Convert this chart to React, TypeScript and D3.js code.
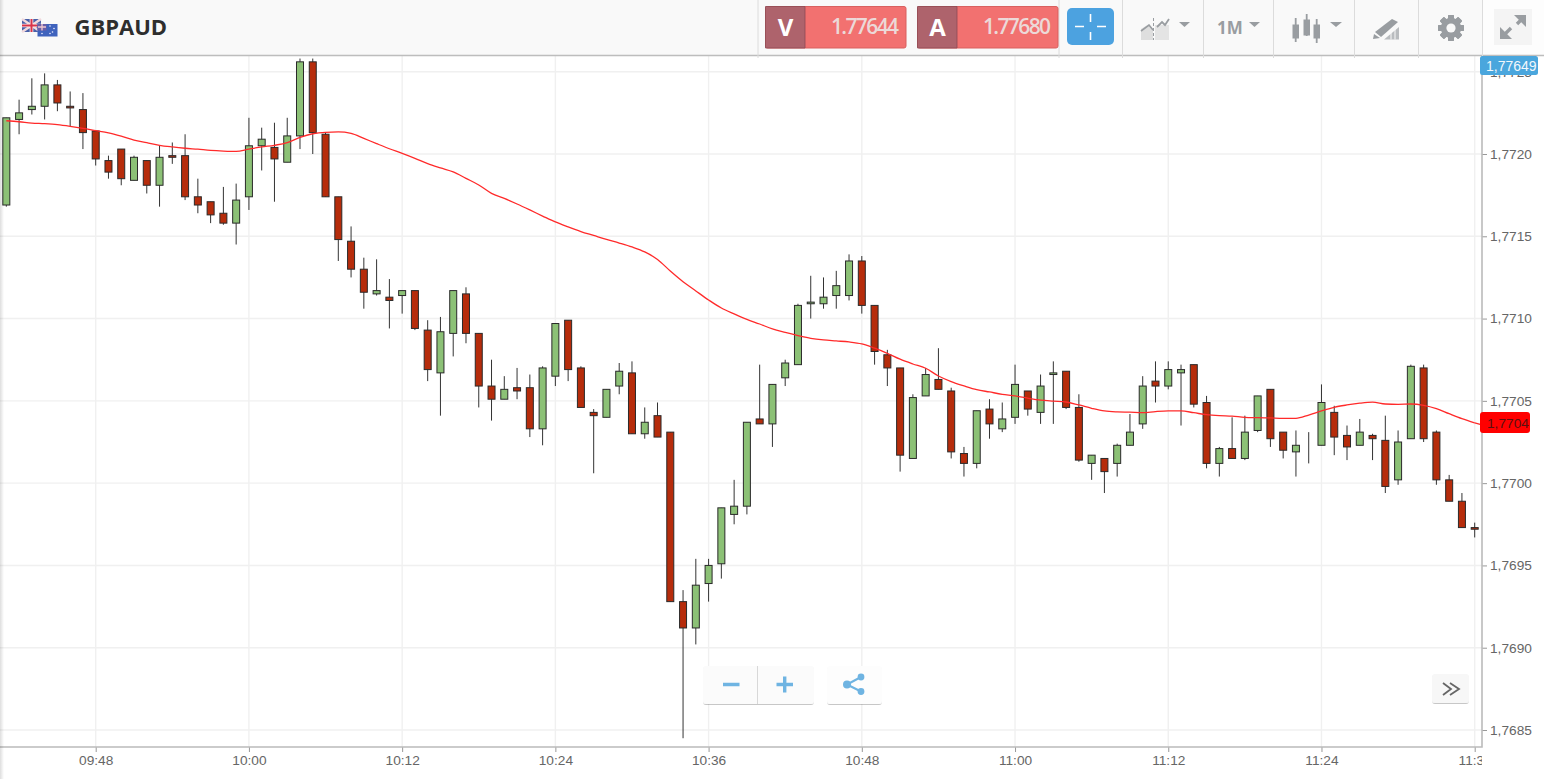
import { useEffect, useRef } from "react";
import * as d3 from "d3";

// one candle per minute, first one is 09:41
const firstMinute = 9 * 60 + 41;

const opens = [
  1.77169, 1.77221, 1.77227, 1.77229, 1.77242, 1.77229, 1.77227, 1.77214, 1.77196, 1.77203,
  1.77184, 1.77196, 1.77181, 1.77199, 1.77199, 1.77174, 1.77171, 1.77164, 1.77158, 1.77174,
  1.77205, 1.77204, 1.77195, 1.77211, 1.77256, 1.77212, 1.77174, 1.77147, 1.7713, 1.77115,
  1.77113, 1.77114, 1.77117, 1.77093, 1.77067, 1.77091, 1.77115, 1.77091, 1.77059, 1.77051,
  1.77058, 1.77058, 1.77033, 1.77065, 1.77099, 1.7707, 1.77043, 1.7704, 1.77059, 1.77067,
  1.7703, 1.77041, 1.77031, 1.76928, 1.76912, 1.76939, 1.76951, 1.76981, 1.76986, 1.77039,
  1.77036, 1.77064, 1.77072, 1.77109, 1.77109, 1.77114, 1.77114, 1.77135, 1.77108, 1.77078,
  1.7707, 1.77015, 1.77053, 1.77063, 1.77056, 1.77018, 1.77012, 1.77045, 1.77033, 1.7704,
  1.77056, 1.77043, 1.77066, 1.77068, 1.77046, 1.77012, 1.77015, 1.77012, 1.77023, 1.77036,
  1.77062, 1.77059, 1.77067, 1.77072, 1.77049, 1.77012, 1.77021, 1.77015, 1.77032, 1.77057,
  1.77031, 1.77019, 1.77023, 1.77023, 1.77043, 1.77029, 1.77023, 1.77029, 1.77026, 1.77002,
  1.77027, 1.7707, 1.77031, 1.77002, 1.76989, 1.76973,
];

const highs = [
  1.77222, 1.77233, 1.77246, 1.77249, 1.77245, 1.77238, 1.77237, 1.77214, 1.77199, 1.77203,
  1.77199, 1.77196, 1.77205, 1.77207, 1.77212, 1.77185, 1.77171, 1.7718, 1.77182, 1.77222,
  1.77216, 1.77219, 1.77222, 1.77258, 1.77258, 1.77213, 1.77174, 1.77156, 1.77137, 1.77136,
  1.77124, 1.77117, 1.77117, 1.77099, 1.77101, 1.77117, 1.77119, 1.77091, 1.77075, 1.77065,
  1.7707, 1.77066, 1.77071, 1.77097, 1.77099, 1.77071, 1.77045, 1.77057, 1.77073, 1.77074,
  1.77046, 1.77049, 1.77031, 1.76935, 1.76954, 1.76954, 1.76985, 1.77002, 1.77037, 1.77072,
  1.7706, 1.77075, 1.77109, 1.77126, 1.77125, 1.77129, 1.77139, 1.77138, 1.77108, 1.77081,
  1.7707, 1.77054, 1.7707, 1.77082, 1.77058, 1.77022, 1.77044, 1.77051, 1.77049, 1.77072,
  1.77056, 1.77066, 1.77074, 1.77068, 1.77054, 1.77017, 1.77015, 1.77024, 1.77042, 1.77065,
  1.77074, 1.77074, 1.77072, 1.77072, 1.77053, 1.77022, 1.7704, 1.77041, 1.77053, 1.77057,
  1.77031, 1.77032, 1.77031, 1.7706, 1.77047, 1.77035, 1.77039, 1.7703, 1.77041, 1.77032,
  1.77072, 1.77072, 1.77032, 1.77005, 1.76994, 1.76976,
];

const lows = [
  1.77168, 1.77212, 1.77224, 1.77221, 1.77226, 1.77217, 1.77203, 1.77193, 1.77185, 1.77181,
  1.77184, 1.77176, 1.77168, 1.77194, 1.77172, 1.77164, 1.77158, 1.77157, 1.77145, 1.77166,
  1.7719, 1.77171, 1.77195, 1.77203, 1.772, 1.77174, 1.77135, 1.77125, 1.77106, 1.77114,
  1.77094, 1.77103, 1.77093, 1.77062, 1.77041, 1.77077, 1.77085, 1.77046, 1.77038, 1.77051,
  1.77051, 1.77028, 1.77023, 1.77059, 1.77062, 1.77046, 1.77006, 1.7704, 1.77054, 1.7703,
  1.77027, 1.77028, 1.76928, 1.76845, 1.76902, 1.76928, 1.76942, 1.76975, 1.76981, 1.77036,
  1.77022, 1.77059, 1.77072, 1.771, 1.77106, 1.77106, 1.77111, 1.77103, 1.77072, 1.77059,
  1.77007, 1.77015, 1.77053, 1.77057, 1.77015, 1.77004, 1.77009, 1.77027, 1.77031, 1.77036,
  1.77041, 1.77036, 1.77036, 1.77045, 1.77013, 1.77002, 1.76994, 1.77004, 1.77023, 1.77033,
  1.77049, 1.77057, 1.77035, 1.77046, 1.77009, 1.77004, 1.77015, 1.77014, 1.77031, 1.77022,
  1.77015, 1.77004, 1.77012, 1.77023, 1.77017, 1.77014, 1.77023, 1.77014, 1.76994, 1.76999,
  1.77027, 1.77025, 1.76999, 1.76989, 1.76973, 1.76967,
];

const closes = [
  1.77222, 1.77225, 1.77229, 1.77242, 1.77231, 1.77228, 1.77213, 1.77197, 1.77189, 1.77185,
  1.77198, 1.77181, 1.77198, 1.77198, 1.77174, 1.77169, 1.77163, 1.77158, 1.77172, 1.77205,
  1.77209, 1.77197, 1.77211, 1.77256, 1.77213, 1.77174, 1.77148, 1.7713, 1.77116, 1.77117,
  1.77111, 1.77117, 1.77094, 1.77069, 1.77092, 1.77117, 1.77091, 1.77059, 1.77051, 1.77057,
  1.77056, 1.77033, 1.7707, 1.77097, 1.77069, 1.77046, 1.77041, 1.77057, 1.77068, 1.7703,
  1.77037, 1.77028, 1.76928, 1.76912, 1.76938, 1.7695, 1.76985, 1.76986, 1.77037, 1.77036,
  1.7706, 1.77073, 1.77108, 1.7711, 1.77113, 1.7712, 1.77135, 1.77108, 1.7708, 1.7707,
  1.77017, 1.77052, 1.77066, 1.77057, 1.77019, 1.77012, 1.77044, 1.77036, 1.77039, 1.7706,
  1.77045, 1.77059, 1.77067, 1.77046, 1.77014, 1.77017, 1.77007, 1.77023, 1.77031, 1.77059,
  1.77059, 1.77069, 1.77069, 1.77048, 1.77012, 1.77021, 1.77015, 1.77031, 1.77053, 1.77027,
  1.7702, 1.77023, 1.77023, 1.77049, 1.77028, 1.77022, 1.77031, 1.77027, 1.76998, 1.77025,
  1.77071, 1.77027, 1.77002, 1.76989, 1.76973, 1.76972,
];

const movingAverage = [
  1.772202, 1.772196, 1.772188, 1.772184, 1.772178, 1.772168, 1.772156, 1.772142, 1.772128, 1.772108,
  1.772085, 1.772069, 1.772053, 1.772043, 1.772035, 1.772029, 1.772022, 1.772018, 1.772016, 1.77203,
  1.772043, 1.772053, 1.772069, 1.772101, 1.772123, 1.772132, 1.772134, 1.772126, 1.772095, 1.772063,
  1.772032, 1.772004, 1.771974, 1.771941, 1.771915, 1.771891, 1.771852, 1.771812, 1.771761, 1.77173,
  1.771696, 1.77166, 1.771623, 1.771587, 1.771557, 1.771529, 1.771505, 1.771481, 1.771459, 1.771435,
  1.771405, 1.771359, 1.771289, 1.771224, 1.771168, 1.771113, 1.771064, 1.771028, 1.770995, 1.770967,
  1.770937, 1.770916, 1.770897, 1.77088, 1.77087, 1.770864, 1.770858, 1.770846, 1.77082, 1.770789,
  1.770753, 1.770724, 1.770698, 1.770651, 1.770617, 1.770591, 1.770568, 1.770554, 1.77054, 1.77053,
  1.770516, 1.770504, 1.770498, 1.770493, 1.770475, 1.770455, 1.770439, 1.770433, 1.770431, 1.770428,
  1.770435, 1.770439, 1.770439, 1.770428, 1.770416, 1.77041, 1.770407, 1.7704, 1.770398, 1.770396,
  1.770394, 1.770394, 1.770414, 1.770439, 1.770461, 1.770475, 1.770486, 1.770492, 1.770481, 1.770479,
  1.770481, 1.770473, 1.770453, 1.770422, 1.770392, 1.770366,
];

const priceTicks = [1.7685, 1.769, 1.7695, 1.77, 1.7705, 1.771, 1.7715, 1.772, 1.7725];
const timeTicks = ["09:48", "10:00", "10:12", "10:24", "10:36", "10:48", "11:00", "11:12", "11:24", "11:36"];
const lastBid = "1,77649";
const sellPrice = "1.77644";
const buyPrice = "1.77680";
const symbol = "GBPAUD";

const toMinutes = (t: string) => +t.slice(0, 2) * 60 + +t.slice(3);
const commaFormat = d3.formatLocale({ decimal: ",", thousands: ".", grouping: [3], currency: ["", ""] }).format(".4f");
const clock = (m: number) => timeTicks.find((t) => toMinutes(t) === m) ?? "";

const x = d3.scaleLinear().domain([toMinutes("09:48"), toMinutes("11:36")]).range([95.7, 1474.7]);
const y = d3.scaleLinear().domain([1.7685, 1.772]).range([730, 154]);

const plotRight = 1482;
const plotTop = 56;
const plotBottom = 747;
const axisFont = "'Liberation Sans', Arial, sans-serif";
const icon = "#999da1";

function App() {
  const gridRef = useRef<SVGGElement>(null);
  const candlesRef = useRef<SVGGElement>(null);
  const axesRef = useRef<SVGGElement>(null);

  useEffect(() => {
    draw();
  }, []);

  function draw() {
    if (!gridRef.current || !candlesRef.current || !axesRef.current) return;
    const minutes = opens.map((_, i) => firstMinute + i);

    const grid = d3.select(gridRef.current);
    grid.selectAll("*").remove();
    grid
      .selectAll("line.h")
      .data(priceTicks)
      .join("line")
      .attr("class", "h")
      .attr("x1", 0)
      .attr("x2", plotRight)
      .attr("y1", (d) => y(d))
      .attr("y2", (d) => y(d));
    grid
      .selectAll("line.v")
      .data(timeTicks)
      .join("line")
      .attr("class", "v")
      .attr("x1", (d) => x(toMinutes(d)))
      .attr("x2", (d) => x(toMinutes(d)))
      .attr("y1", plotTop)
      .attr("y2", plotBottom);
    grid.selectAll("line").attr("stroke", "#f0f0f0").attr("stroke-width", 1.4);

    const plot = d3.select(candlesRef.current);
    plot.selectAll("*").remove();
    plot
      .selectAll("line")
      .data(minutes)
      .join("line")
      .attr("x1", (m) => x(m))
      .attr("x2", (m) => x(m))
      .attr("y1", (_, i) => y(highs[i]))
      .attr("y2", (_, i) => y(lows[i]))
      .attr("stroke", "#333")
      .attr("stroke-width", 1);
    plot
      .selectAll("rect")
      .data(minutes)
      .join("rect")
      .attr("x", (m) => x(m) - 3.5)
      .attr("width", 7)
      .attr("y", (_, i) => y(Math.max(opens[i], closes[i])))
      .attr("height", (_, i) => Math.abs(y(opens[i]) - y(closes[i])))
      .attr("fill", (_, i) => (closes[i] >= opens[i] ? "#8cc176" : "#b62c0b"))
      .attr("stroke", "#2a2a2a")
      .attr("stroke-width", 1);

    const maLine = d3
      .line<number>()
      .x((_, i) => x(minutes[i]))
      .y((d) => y(d))
      .curve(d3.curveMonotoneX);
    plot
      .append("path")
      .attr("d", maLine(movingAverage))
      .attr("fill", "none")
      .attr("stroke", "#ff2a2a")
      .attr("stroke-width", 1.3);
    // the line carries on up to the axis
    plot
      .append("line")
      .attr("x1", x(minutes[minutes.length - 1]))
      .attr("y1", y(movingAverage[movingAverage.length - 1]))
      .attr("x2", plotRight)
      .attr("y2", y(movingAverage[movingAverage.length - 1]) + 2)
      .attr("stroke", "#ff2a2a")
      .attr("stroke-width", 1.3);

    const axes = d3.select(axesRef.current);
    axes.selectAll("*").remove();
    const right = axes
      .append("g")
      .attr("transform", `translate(${plotRight},0)`)
      .call(
        d3
          .axisRight(y)
          .tickValues(priceTicks)
          .tickFormat((d) => commaFormat(d as number))
          .tickSize(5)
          .tickPadding(3)
      );
    const bottom = axes
      .append("g")
      .attr("clip-path", "url(#xlabels)")
      .append("g")
      .attr("transform", `translate(0,${plotBottom})`)
      .call(
        d3
          .axisBottom(x)
          .tickValues(timeTicks.map(toMinutes))
          .tickFormat((d) => clock(d as number))
          .tickSize(5)
          .tickPadding(3)
      );
    [right, bottom].forEach((g) => {
      g.selectAll("text").attr("font-family", axisFont).attr("font-size", 13.7).attr("fill", "#666");
      g.selectAll(".tick line").attr("stroke", "#999");
      g.select(".domain").remove();
    });
    axes
      .append("path")
      .attr("d", `M${plotRight},${plotTop}V${plotBottom}H0`)
      .attr("fill", "none")
      .attr("stroke", "#bbb")
      .attr("stroke-width", 1.6);
  }

  const lastY = y(movingAverage[movingAverage.length - 1]);

  return (
    <svg
      width={1544}
      height={779}
      viewBox="0 0 1544 779"
      style={{ position: "absolute", top: 0, left: 0, display: "block", background: "#fff" }}
    >
      <defs>
        <clipPath id="xlabels">
          <rect x={0} y={740} width={plotRight} height={39} />
        </clipPath>
        <linearGradient id="edge" x1="0" x2="1" y1="0" y2="0">
          <stop offset="0" stopColor="#000" stopOpacity={0.13} />
          <stop offset="1" stopColor="#000" stopOpacity={0} />
        </linearGradient>
        <filter id="soft" x="-10%" y="-10%" width="120%" height="130%">
          <feDropShadow dx={0} dy={1} stdDeviation={0.7} floodColor="#000" floodOpacity={0.22} />
        </filter>
      </defs>

      <g ref={gridRef} />
      <g ref={candlesRef} />
      <g ref={axesRef} />

      {/* toolbar */}
      <rect x={0} y={0} width={1544} height={55} fill="#f9f9f9" />
      <rect x={1482} y={0} width={62} height={55} fill="#fdfdfd" />
      <line x1={0} x2={1544} y1={55.5} y2={55.5} stroke="#bdbdbd" strokeWidth={1.3} />
      {[758, 1059, 1122.5, 1203.5, 1273.5, 1354.5, 1418.5, 1482.5].map((sx) => (
        <line key={sx} x1={sx} x2={sx} y1={0} y2={58} stroke="#dcdcdc" />
      ))}

      {/* flags */}
      <g>
        <rect x={22} y={19} width={19} height={13} fill="#4a60a8" />
        <path d="M22,19L41,32M41,19L22,32" stroke="#f1d9dd" strokeWidth={2.5} />
        <path d="M31.5,19V32M22,25.5H41" stroke="#f4f0f0" strokeWidth={3.6} />
        <path d="M31.5,19V32M22,25.5H41" stroke="#d9344a" strokeWidth={2} />
        <rect x={37.5} y={24} width={20} height={12.5} fill="#3f63bd" />
        <rect x={37.5} y={24} width={9} height={6.5} fill="#6a5fa8" />
        <path d="M38,27H46M42,24V30.5" stroke="#f0c8cf" strokeWidth={1.3} />
        {[
          [50, 26],
          [54, 28.5],
          [50, 33.5],
          [42, 33.5],
          [52.5, 32],
        ].map(([sx, sy]) => (
          <circle key={`${sx}-${sy}`} cx={sx} cy={sy} r={0.8} fill="#eef" />
        ))}
      </g>
      <text x={74.5} y={35} fontFamily="'Open Sans', sans-serif" fontWeight={700} fontSize={22} fill="#2e2e2e">
        {symbol}
      </text>

      {/* sell / buy boxes */}
      {[
        { bx: 765.5, label: "V", price: sellPrice },
        { bx: 917.5, label: "A", price: buyPrice },
      ].map(({ bx, label, price }) => (
        <g key={label}>
          <rect x={bx} y={6.5} width={140.5} height={41.5} rx={2} fill="#f27170" stroke="#d9605f" />
          <path d={`M${bx},6.5H${bx + 39.5}V48H${bx}Z`} fill="#ae636c" stroke="#8e4a54" strokeWidth={0.8} />
          <text
            x={bx + 20}
            y={35.5}
            textAnchor="middle"
            fontFamily="'Open Sans', sans-serif"
            fontWeight={700}
            fontSize={24}
            fill="#fff"
          >
            {label}
          </text>
          <text
            x={bx + 132}
            y={33.5}
            textAnchor="end"
            fontFamily="'Open Sans', sans-serif"
            fontWeight={600}
            fontSize={21}
            letterSpacing={-1.6}
            fill="#ecd9d8"
          >
            {price}
          </text>
        </g>
      ))}

      {/* crosshair button */}
      <rect x={1067} y={8} width={47} height={37} rx={5} fill="#4ca2e0" />
      <path d="M1075,26.5H1084M1097,26.5H1106M1090.5,14V22M1090.5,32V40" stroke="#fff" strokeWidth={1.6} />

      {/* chart type */}
      <path d="M1141,40V29L1149,24L1153,29V40Z" fill="#dedede" />
      <rect x={1155} y={25} width={14} height={15} fill="#e4e4e4" />
      <path d="M1141,31L1149,25L1153,30" fill="none" stroke={icon} strokeWidth={1.6} />
      <path d="M1157,27L1162,22L1165,25L1169,19" fill="none" stroke={icon} strokeWidth={1.8} />
      <path d="M1153.5,18V40" stroke={icon} strokeWidth={1} strokeDasharray="3 2" />
      <path d="M1179,22H1190L1184.5,27Z" fill={icon} />

      <text x={1217} y={34} fontFamily="'Open Sans', sans-serif" fontWeight={700} fontSize={17} fill={icon}>
        1M
      </text>
      <path d="M1249,22H1260L1254.5,27Z" fill={icon} />

      {/* candle icon */}
      <g fill={icon} stroke={icon}>
        <path d="M1295.7,18V42M1306.7,14V36M1316.7,19V43" strokeWidth={1.8} fill="none" />
        <rect x={1293} y={25} width={5.5} height={13} />
        <rect x={1304} y={20} width={5.5} height={15} />
        <rect x={1314} y={25} width={5.5} height={13} />
      </g>
      <path d="M1330,22H1342L1336,27Z" fill={icon} />

      {/* pencil */}
      <path d="M1375,32L1392,19L1398,22L1381,37Z" fill={icon} />
      <path d="M1374,34L1380,38L1373,39Z" fill={icon} />
      <path d="M1384,39.5L1399,27V39.5Z" fill="#b9bcbf" />
      <path d="M1391,39.5V33M1395,39.5V29" stroke="#f9f9f9" strokeWidth={1} />

      {/* gear */}
      <g transform="translate(1451,28)">
        {d3.range(8).map((i) => (
          <rect key={i} x={-3} y={-13} width={6} height={26} rx={1} fill={icon} transform={`rotate(${i * 22.5 * 2})`} />
        ))}
        <circle r={10.2} fill={icon} />
        <circle r={4.6} fill="#f9f9f9" />
      </g>

      {/* expand */}
      <rect x={1494} y={9} width={38} height={36} fill="#f4f4f4" />
      <g stroke={icon} strokeWidth={3.4} fill="none">
        <path d="M1503,36L1511,28M1517,24L1524,17" />
      </g>
      <path d="M1500,27V39H1512Z" fill={icon} />
      <path d="M1526,15V27L1514,15Z" fill={icon} />

      {/* price flags on the axis */}
      <rect x={1480} y={56} width={58} height={19} rx={2.5} fill="#4aa6dd" />
      <text x={1486} y={70.5} fontFamily={axisFont} fontSize={14} fill="#f2f8fc">
        {lastBid}
      </text>
      <rect x={1480} y={lastY - 11} width={50} height={21} rx={3} fill="#ff0000" />
      <text x={1487} y={lastY + 5} fontFamily={axisFont} fontSize={13.7} fill="#5a1010">
        {commaFormat(movingAverage[movingAverage.length - 1])}
      </text>

      {/* zoom controls */}
      <g filter="url(#soft)">
        <rect x={703} y={666} width={111} height={38} rx={3} fill="#fbfbfb" />
        <rect x={827} y={666} width={55} height={38} rx={3} fill="#fdfdfd" />
        <rect x={1432} y={674} width={37} height={29} rx={3} fill="#f7f7f7" />
      </g>
      <line x1={757.5} x2={757.5} y1={666} y2={704} stroke="#d8d8d8" />
      <path d="M723,684.5H739.5M776.5,684.5H793M784.7,676.5V692.5" stroke="#6fb4e2" strokeWidth={3.4} fill="none" />
      <path d="M847,684.5L861,677M847,684.5L861,691.5" stroke="#6fb4e2" strokeWidth={2} />
      <circle cx={847} cy={684.5} r={4} fill="#6fb4e2" />
      <circle cx={861} cy={677} r={3.4} fill="#6fb4e2" />
      <circle cx={861} cy={691.5} r={3.4} fill="#6fb4e2" />
      <path d="M1443,683L1451,689L1443,695M1450,683L1459,689L1450,695" fill="none" stroke="#666" strokeWidth={1.8} />

      <rect x={0} y={0} width={4} height={779} fill="url(#edge)" />
    </svg>
  );
}

export default App;
